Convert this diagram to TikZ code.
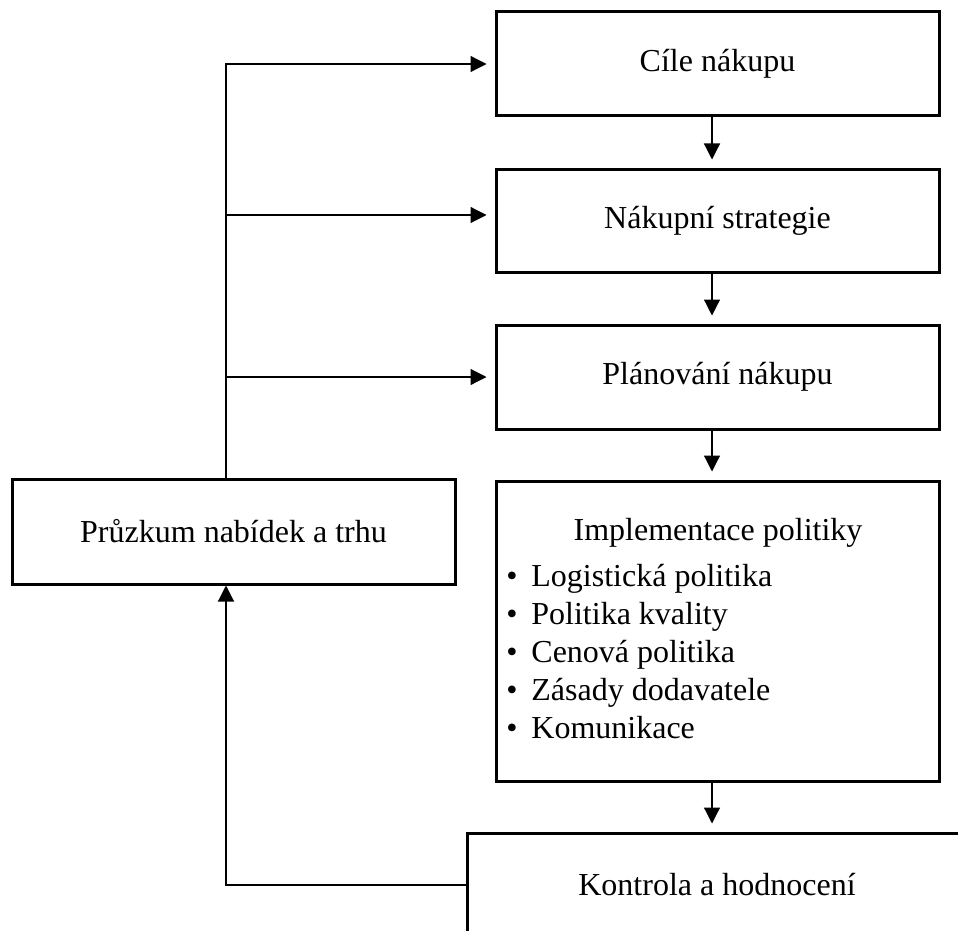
\documentclass[tikz,border=0pt]{standalone}
\usepackage{fontspec}
\setmainfont{Liberation Serif}
\usetikzlibrary{arrows.meta,calc}
\begin{document}
\begin{tikzpicture}[x=0.5pt,y=-0.5pt,
  box/.style={draw,line width=1.5pt,minimum width=221.5pt,minimum height=52pt,inner sep=0pt,font=\fontsize{16}{19}\selectfont},
  conn/.style={line width=0.6pt,-{Triangle[length=8pt,width=8pt]}},
  gap/.style={shorten >=4pt},
  txt/.style={font=\fontsize{16}{19}\selectfont,inner sep=0pt}]
\useasboundingbox (0,0) rectangle (958,931);
\clip (0,0) rectangle (958,931);
% boxes
\node[box] (B1) at (717.5,64) {Cíle nákupu};
\node[box,minimum height=51.5pt] (B2) at (717.5,220.5) {Nákupní strategie};
\node[box] (B3) at (717.5,377) {Plánování nákupu};
\node[box,minimum height=150pt] (B4) at (717.5,631) {};
\node[box,minimum height=52.5pt] (P) at (233.5,531.5) {Průzkum nabídek a trhu};
\node[box,minimum width=250pt] (B5) at (717,885) {Kontrola a hodnocení};
% contents of B4
\node[txt,anchor=base] (T4) at (718,540.7) {Implementace politiky};
\foreach \i/\y/\t in {1/586.7/Logistická politika,2/624.5/Politika kvality,3/662.3/Cenová politika,4/700.1/Zásady dodavatele,5/738/Komunikace}{
  \node[txt,anchor=base] (d\i) at (512,\y) {•};
  \node[txt,anchor=base west] (l\i) at (531,\y) {\t};
}
% helper coordinates
\coordinate (ax) at (712,0);
\coordinate (lx) at (226,0);
\coordinate (b2) at (226,215);
% vertical flow
\draw[conn,gap] (B1.south -| ax) -- (B2.north -| ax);
\draw[conn,gap] (B2.south -| ax) -- (B3.north -| ax);
\draw[conn,gap] (B3.south -| ax) -- (B4.north -| ax);
\draw[conn,gap] (B4.south -| ax) -- (B5.north -| ax);
% left feed lines
\draw[conn,gap] (P.north -| lx) |- (B1.west);
\draw[conn,gap] (b2) -- (b2 -| B2.west);
\draw[conn,gap] (B3.west -| lx) -- (B3.west);
% feedback
\draw[conn] (B5.west) -| (P.south -| lx);
\end{tikzpicture}
\end{document}
